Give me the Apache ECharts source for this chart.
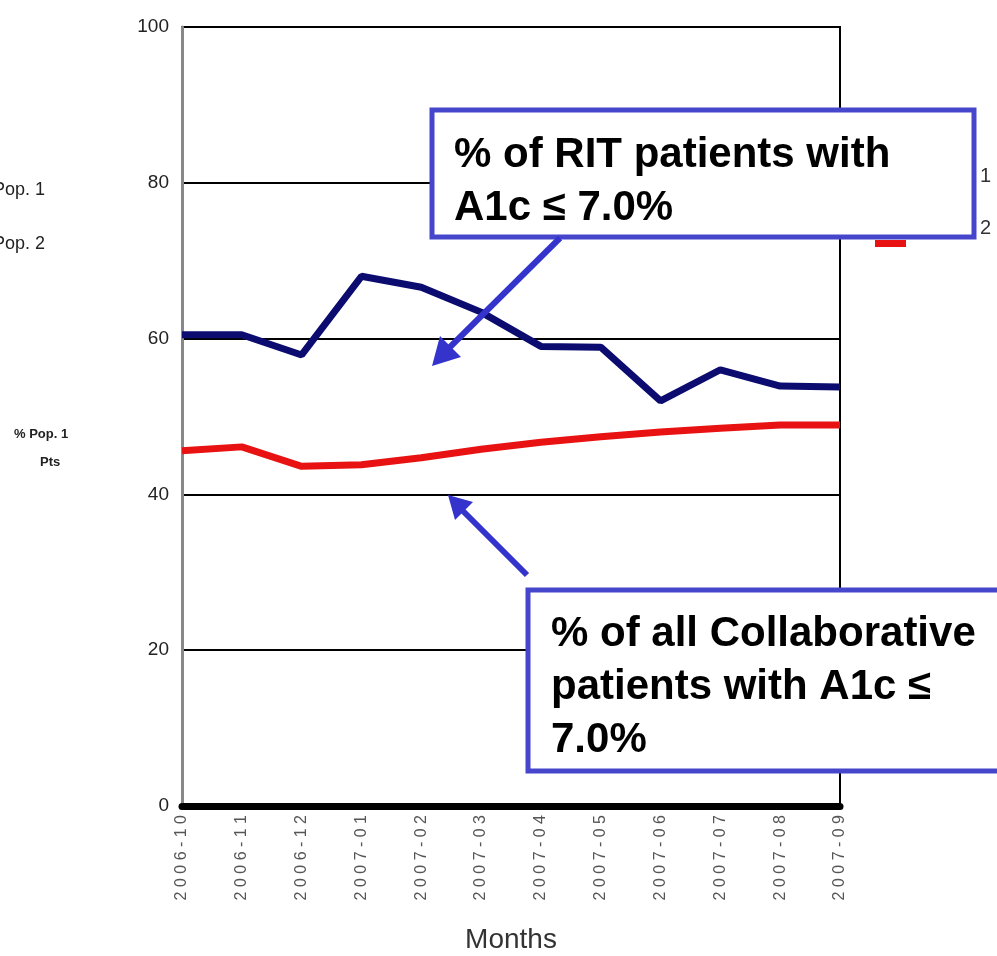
<!DOCTYPE html>
<html>
<head>
<meta charset="utf-8">
<script src="https://cdn.jsdelivr.net/npm/echarts@6/dist/echarts.min.js"></script>
<style>
  html, body { margin: 0; padding: 0; background: #fff; }
  #main { width: 997px; height: 956px; }
</style>
</head>
<body>
<div id="main"></div>
<script>
// months on the x axis
const months = ['2006-10', '2006-11', '2006-12', '2007-01', '2007-02', '2007-03',
  '2007-04', '2007-05', '2007-06', '2007-07', '2007-08', '2007-09']
// % of RIT patients with A1c <= 7.0% (Pop. 1)
const ritPct = [60.5, 60.5, 57.9, 68.0, 66.6, 63.4, 59.0, 58.9, 52.0, 56.0, 53.9, 53.8]
// % of all Collaborative patients with A1c <= 7.0% (Pop. 2)
const allPct = [45.6, 46.1, 43.6, 43.8, 44.7, 45.8, 46.7, 47.4, 48.0, 48.5, 48.9, 48.9]
const yTicks = [0, 20, 40, 60, 80, 100]

const chart = echarts.init(document.getElementById('main'))

const boxBlue = '#4646cc'
const arrowBlue = '#3434cc'
const boldFont = 'bold 42px "Liberation Sans", Arial, sans-serif'

const option = {
  animation: false,
  grid: {
    left: 182,
    right: 157,
    top: 27,
    bottom: 150,
    outerBoundsMode: 'none',
    containLabel: false,
    show: true,
    borderColor: '#000',
    borderWidth: 2
  },
  xAxis: {
    type: 'category',
    boundaryGap: false,
    data: months,
    name: 'Months',
    nameLocation: 'middle',
    nameGap: 120,
    nameTextStyle: {
      fontFamily: '"Liberation Sans Narrow", "Liberation Sans", sans-serif',
      fontSize: 28,
      color: '#333'
    },
    axisLine: { lineStyle: { color: '#000', width: 7 } },
    axisTick: { show: false },
    axisLabel: {
      rotate: 90,
      margin: 9,
      fontSize: 16,
      color: '#555',
      fontFamily: '"Liberation Sans", Arial, sans-serif',
      formatter: v => v.split('').join(' ')
    },
    splitLine: { show: false }
  },
  yAxis: {
    type: 'value',
    min: yTicks[0],
    max: yTicks[yTicks.length - 1],
    interval: 20,
    axisLine: { show: true, lineStyle: { color: '#888', width: 3 } },
    axisTick: { show: false },
    axisLabel: {
      margin: 13,
      fontSize: 19,
      color: '#222',
      fontFamily: '"Liberation Sans", Arial, sans-serif'
    },
    splitLine: { lineStyle: { color: '#000', width: 2 } }
  },
  series: [
    {
      name: 'Pop. 1',
      type: 'line',
      data: ritPct,
      symbol: 'none',
      lineStyle: { color: '#0c0c70', width: 7 },
      z: 3
    },
    {
      name: 'Pop. 2',
      type: 'line',
      data: allPct,
      symbol: 'none',
      lineStyle: { color: '#e81212', width: 7 },
      z: 3
    }
  ],
  graphic: [
    // legend fragments left
    { type: 'text', left: -7, top: 181, style: { text: 'Pop. 1', font: '18px "Liberation Sans", Arial, sans-serif', fill: '#222' } },
    { type: 'text', left: -7, top: 235, style: { text: 'Pop. 2', font: '18px "Liberation Sans", Arial, sans-serif', fill: '#222' } },
    { type: 'text', left: 14, top: 428, style: { text: '% Pop. 1', font: 'bold 13px "Liberation Sans", Arial, sans-serif', fill: '#222' } },
    { type: 'text', left: 40, top: 456, style: { text: 'Pts', font: 'bold 13px "Liberation Sans", Arial, sans-serif', fill: '#222' } },
    // legend fragments right
    { type: 'text', left: 980, top: 166, style: { text: '1', font: '20px "Liberation Sans", Arial, sans-serif', fill: '#333' } },
    { type: 'text', left: 980, top: 218, style: { text: '2', font: '20px "Liberation Sans", Arial, sans-serif', fill: '#333' } },
    { type: 'rect', shape: { x: 875, y: 240, width: 31, height: 7 }, style: { fill: '#e81212' }, z: 5 },
    // annotation box 1
    {
      type: 'rect', shape: { x: 432, y: 110, width: 542, height: 127 },
      style: { fill: '#fff', stroke: boxBlue, lineWidth: 5 }, z: 10
    },
    {
      type: 'text', left: 454, top: 129, z: 11,
      style: { text: '% of RIT patients with\nA1c ≤ 7.0%', font: boldFont, fill: '#000', lineHeight: 53 }
    },
    // annotation box 2
    {
      type: 'rect', shape: { x: 528, y: 590, width: 480, height: 181 },
      style: { fill: '#fff', stroke: boxBlue, lineWidth: 5 }, z: 10
    },
    {
      type: 'text', left: 551, top: 608, z: 11,
      style: { text: '% of all Collaborative\npatients with A1c ≤\n7.0%', font: boldFont, fill: '#000', lineHeight: 53 }
    },
    // arrow 1
    { type: 'line', shape: { x1: 560, y1: 238, x2: 446, y2: 351 }, style: { stroke: arrowBlue, lineWidth: 6 }, z: 12 },
    { type: 'polygon', shape: { points: [[432, 366], [440, 336], [461, 357]] }, style: { fill: arrowBlue }, z: 12 },
    // arrow 2
    { type: 'line', shape: { x1: 527, y1: 575, x2: 462, y2: 510 }, style: { stroke: arrowBlue, lineWidth: 6 }, z: 12 },
    { type: 'polygon', shape: { points: [[448, 495], [473, 502], [455, 520]] }, style: { fill: arrowBlue }, z: 12 }
  ]
}

chart.setOption(option)
</script>
</body>
</html>
